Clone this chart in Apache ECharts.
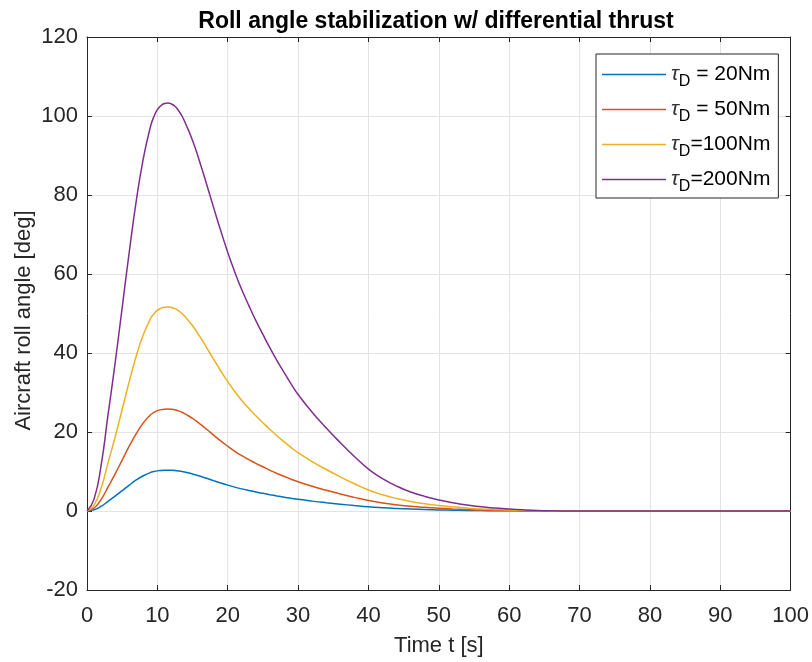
<!DOCTYPE html>
<html>
<head>
<meta charset="utf-8">
<script src="https://cdn.jsdelivr.net/npm/echarts@6/dist/echarts.min.js"></script>
<style>html,body{margin:0;padding:0;background:#fff;}#c{width:812px;height:662px;}</style>
</head>
<body>
<div id="c"></div>
<script>
var titleText = 'Roll angle stabilization w/ differential thrust';
var xName = 'Time t [s]';
var yName = 'Aircraft roll angle [deg]';
var seriesNames = ['τD = 20Nm', 'τD = 50Nm', 'τD=100Nm', 'τD=200Nm'];
var legendRest = [' = 20Nm', ' = 50Nm', '=100Nm', '=200Nm'];
var colors = ['#0072BD', '#D95319', '#EDB120', '#7E2F8E'];

var t = [0,1,2,3,4,5,6,7,8,9,9.5,10,10.5,11,11.5,12,12.5,13,13.5,14,15,16,17,18,19,20,21,22,23,24,25,26,27,28,29,30,32,34,36,38,40,42,44,46,48,50,52,54,56,58,60,62,64,66,68,70,75,80,85,90,95,100];

var tau20 = [0,0.3,1.15,2.45,3.75,5.15,6.55,7.85,8.92,9.72,9.98,10.16,10.26,10.32,10.33,10.31,10.25,10.14,10.0,9.81,9.38,8.85,8.27,7.68,7.1,6.55,6.05,5.6,5.2,4.82,4.47,4.13,3.81,3.51,3.22,2.95,2.5,2.1,1.73,1.38,1.06,0.82,0.63,0.48,0.37,0.28,0.21,0.15,0.1,0.075,0.05,0.03,0.015,0.006,0.002,0,0,0,0,0,0,0];
var tau50 = [0,0.75,2.9,6.1,9.4,12.9,16.4,19.6,22.3,24.3,24.95,25.4,25.65,25.79,25.83,25.76,25.61,25.35,25.0,24.5,23.45,22.1,20.7,19.2,17.75,16.4,15.1,14,13,12.05,11.2,10.3,9.5,8.8,8.05,7.4,6.25,5.25,4.3,3.45,2.65,2.05,1.58,1.2,0.92,0.7,0.52,0.38,0.26,0.19,0.12,0.08,0.04,0.015,0.005,0,0,0,0,0,0,0];
var tau100 = [0,1.5,5.75,12.25,18.75,25.75,32.75,39.25,44.6,48.6,49.9,50.8,51.3,51.58,51.65,51.52,51.22,50.7,50.0,49.05,46.9,44.25,41.35,38.4,35.5,32.75,30.25,28,26,24.1,22.35,20.65,19.05,17.55,16.1,14.75,12.5,10.5,8.65,6.9,5.3,4.1,3.15,2.4,1.85,1.4,1.05,0.75,0.52,0.37,0.25,0.15,0.075,0.03,0.01,0,0,0,0,0,0,0];
var tau200 = [0,3,11.5,24.5,37.5,51.5,65.5,78.5,89.2,97.2,99.8,101.6,102.6,103.15,103.3,103.05,102.45,101.4,100.0,98.1,93.8,88.5,82.7,76.8,71,65.5,60.5,56,52,48.2,44.7,41.3,38.1,35.1,32.2,29.5,25,21,17.3,13.8,10.6,8.2,6.3,4.8,3.7,2.8,2.1,1.5,1.05,0.75,0.5,0.3,0.15,0.06,0.02,0,0,0,0,0,0,0];

var seriesValues = [tau20, tau50, tau100, tau200];

function pairs(ys){ return t.map(function(x,i){ return [x, ys[i]]; }); }

var font = '"Liberation Sans", Arial, Helvetica, sans-serif';
var axisColor = '#262626';

var chart = echarts.init(document.getElementById('c'));
var option = {
  animation: false,
  backgroundColor: '#fff',
  title: {
    text: titleText, left: 431, top: 5, textAlign: 'center',
    textStyle: { fontFamily: font, fontSize: 23, fontWeight: 'bold', color: '#000' }
  },
  grid: { left: 87, right: 21, top: 37, bottom: 70, show: false },
  legend: {
    orient: 'vertical', left: 596, top: 54, width: 178,
    padding: [10, 8, 3, 6], itemGap: 9, itemWidth: 64, itemHeight: 1.5,
    icon: 'rect',
    backgroundColor: '#fff', borderColor: axisColor, borderWidth: 1,
    data: seriesNames,
    formatter: function(name){ return '{a|τ}{b|D}{c|' + legendRest[seriesNames.indexOf(name)] + '}'; },
    textStyle: {
      fontFamily: font, color: '#000',
      rich: {
        a: { fontFamily: font, fontSize: 21, fontStyle: 'italic', color: '#333', lineHeight: 24 },
        b: { fontFamily: font, fontSize: 16, color: '#000', padding: [15, 0, 0, 0] },
        c: { fontFamily: font, fontSize: 21, color: '#000', lineHeight: 24 }
      }
    }
  },
  xAxis: [{
    type: 'value', min: 0, max: 100, interval: 10,
    name: xName, nameLocation: 'middle', nameGap: 45,
    nameTextStyle: { fontFamily: font, fontSize: 22, color: axisColor },
    axisLine: { show: true, onZero: false, lineStyle: { color: axisColor, width: 1 } },
    axisTick: { show: true, inside: true, length: 5, lineStyle: { color: axisColor } },
    axisLabel: { fontFamily: font, fontSize: 22, color: axisColor, margin: 15 },
    splitLine: { show: true, lineStyle: { color: '#e3e3e3', width: 1 } }
  }, {
    type: 'value', min: 0, max: 100, interval: 10, position: 'top',
    axisLine: { show: true, onZero: false, lineStyle: { color: axisColor, width: 1 } },
    axisTick: { show: true, inside: true, length: 5, lineStyle: { color: axisColor } },
    axisLabel: { show: false }, splitLine: { show: false }
  }],
  yAxis: [{
    type: 'value', min: -20, max: 120, interval: 20,
    name: yName, nameLocation: 'middle', nameGap: 52, nameMoveOverlap: false,
    nameTextStyle: { fontFamily: font, fontSize: 22, color: axisColor, padding: [0, 14, 0, 0] },
    axisLine: { show: true, onZero: false, lineStyle: { color: axisColor, width: 1 } },
    axisTick: { show: true, inside: true, length: 5, lineStyle: { color: axisColor } },
    axisLabel: { fontFamily: font, fontSize: 22, color: axisColor, margin: 9 },
    splitLine: { show: true, lineStyle: { color: '#e3e3e3', width: 1 } }
  }, {
    type: 'value', min: -20, max: 120, interval: 20, position: 'right',
    axisLine: { show: true, onZero: false, lineStyle: { color: axisColor, width: 1 } },
    axisTick: { show: true, inside: true, length: 5, lineStyle: { color: axisColor } },
    axisLabel: { show: false }, splitLine: { show: false }
  }],
  series: seriesNames.map(function(n, i){
    return {
      name: n, type: 'line', data: pairs(seriesValues[i]),
      xAxisIndex: 0, yAxisIndex: 0,
      showSymbol: false, symbol: 'none', smooth: 0.5,
      lineStyle: { color: colors[i], width: 1.5 },
      itemStyle: { color: colors[i] }
    };
  })
};
chart.setOption(option);
</script>
</body>
</html>
